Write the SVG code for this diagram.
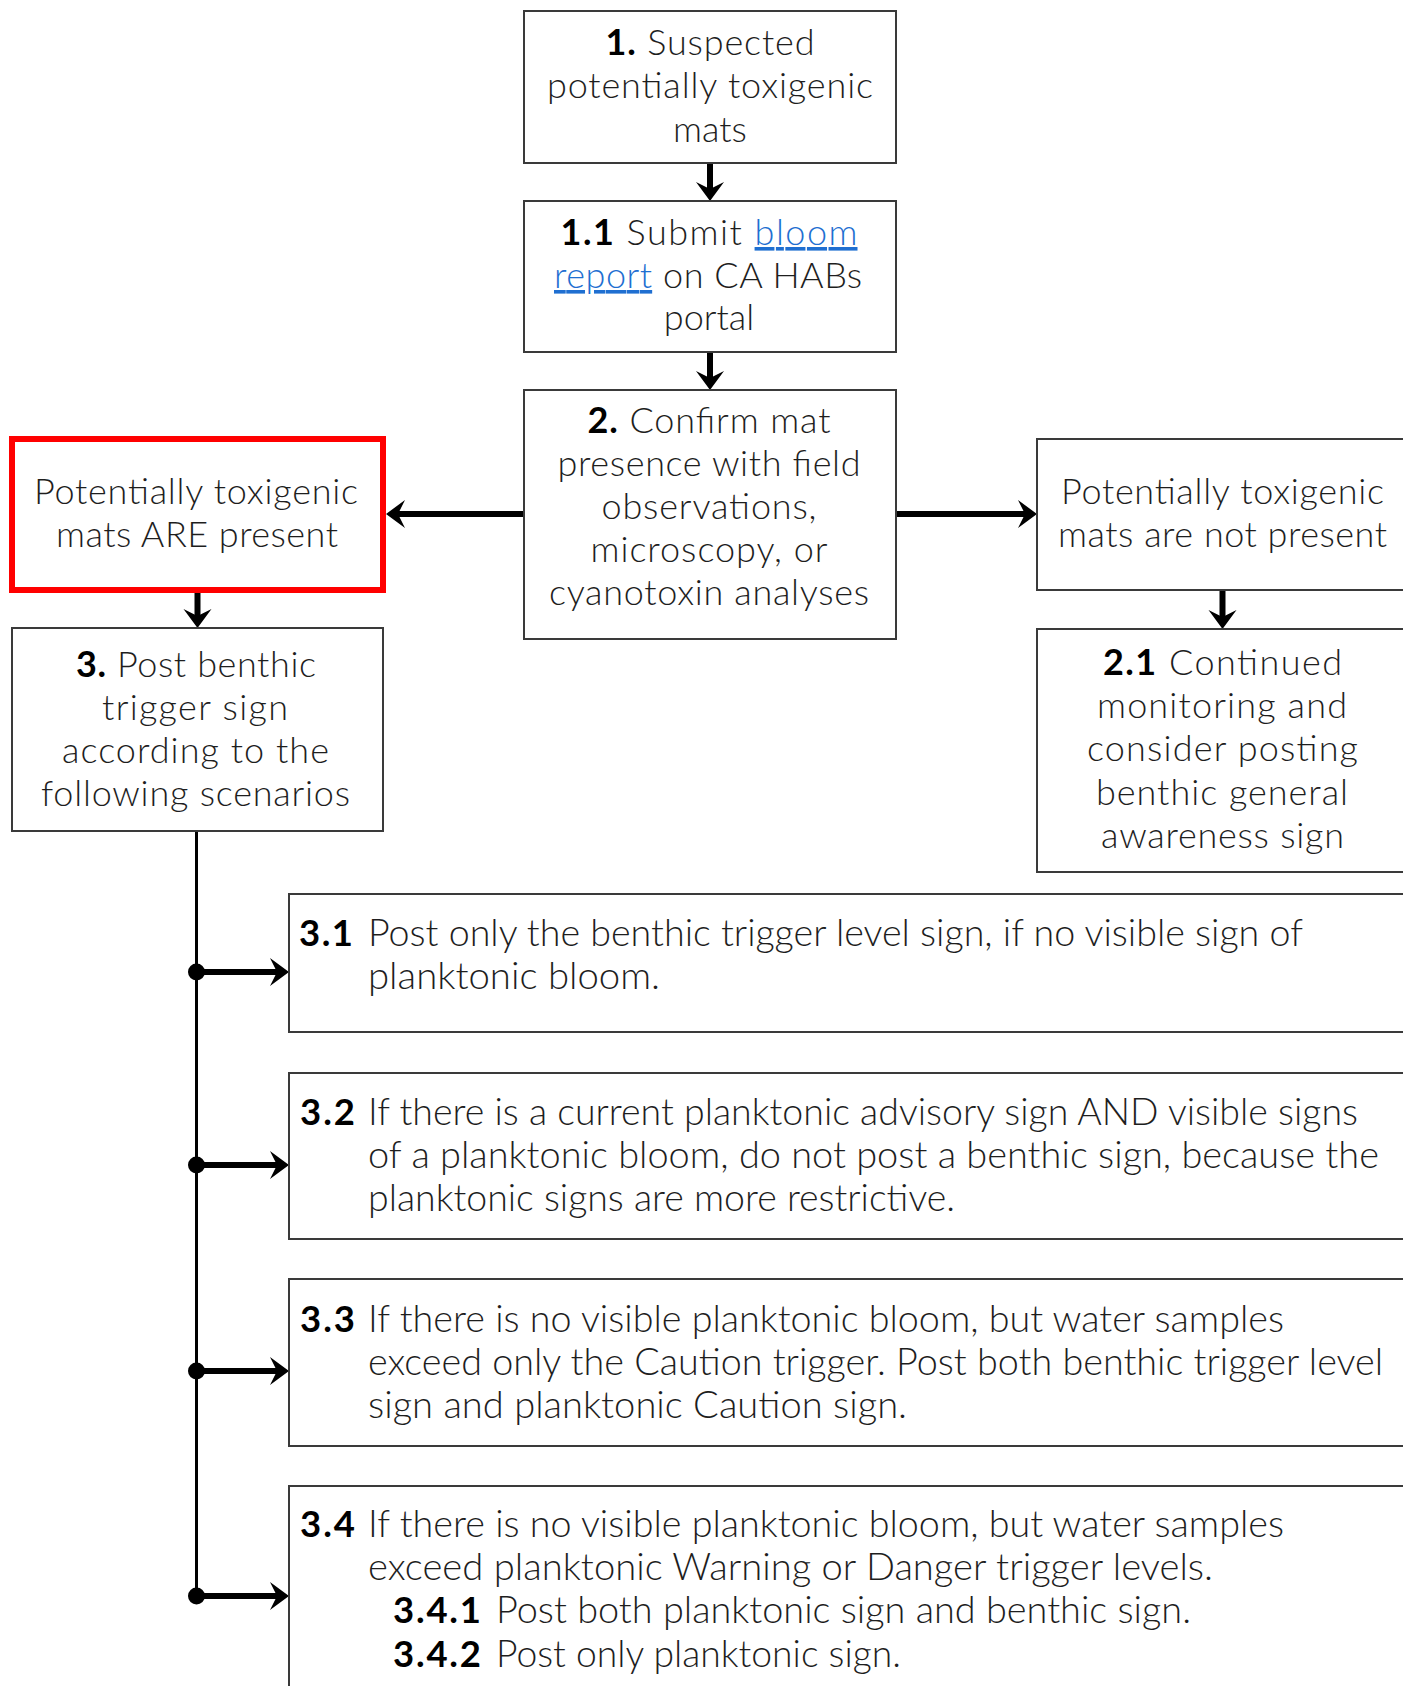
<svg xmlns="http://www.w3.org/2000/svg" width="1403" height="1686" viewBox="0 0 1403 1686">
<defs>
<marker id="ah" markerUnits="userSpaceOnUse" viewBox="-20 -15 21 30" refX="-10" refY="0" markerWidth="21" markerHeight="30" orient="auto">
<path d="M0,0 L-19,-14 L-12,0 L-19,14 Z" fill="#000"/>
</marker>
<style>
.box{fill:#fff;stroke:#3a3a3a;stroke-width:2}
.red{fill:#fff;stroke:#ff0000;stroke-width:6}
.t{font-family:Lato,"Liberation Sans",sans-serif;font-weight:300;font-size:36px;fill:#1e1e1e}
.c{text-anchor:middle}
.b{font-weight:700;fill:#000}
.lk{fill:#1f6fd1;text-decoration:underline}
.lo{font-size:36.5px}
.arr{stroke:#000;stroke-width:6;fill:none;marker-end:url(#ah)}
.trunk{stroke:#000;stroke-width:3;fill:none}
.dot{fill:#000}
</style>
</defs>
<rect width="1403" height="1686" fill="#fff"/>

<g id="connectors">
<line class="arr" x1="710" y1="163" x2="710" y2="191"/>
<line class="arr" x1="710" y1="352" x2="710" y2="380"/>
<line class="arr" x1="524" y1="514" x2="396" y2="514"/>
<line class="arr" x1="896" y1="514" x2="1027" y2="514"/>
<line class="arr" x1="197.5" y1="593" x2="197.5" y2="618"/>
<line class="arr" x1="1222.5" y1="590" x2="1222.5" y2="619"/>
<line class="trunk" x1="196.5" y1="831" x2="196.5" y2="1596"/>
<line class="arr" x1="196.5" y1="972" x2="279" y2="972"/>
<line class="arr" x1="196.5" y1="1165" x2="279" y2="1165"/>
<line class="arr" x1="196.5" y1="1371" x2="279" y2="1371"/>
<line class="arr" x1="196.5" y1="1596" x2="279" y2="1596"/>
<circle class="dot" cx="196.5" cy="972" r="8.5"/>
<circle class="dot" cx="196.5" cy="1165" r="8.5"/>
<circle class="dot" cx="196.5" cy="1371" r="8.5"/>
<circle class="dot" cx="196.5" cy="1596" r="8.5"/>
</g>

<g id="n1">
<rect class="box" x="524" y="11" width="372" height="152"/>
<text class="t c" x="710" y="55" textLength="209"><tspan class="b">1.</tspan> Suspected</text>
<text class="t c" x="710" y="98" textLength="326">potentially toxigenic</text>
<text class="t c" x="710" y="142">mats</text>
</g>

<g id="n1_1">
<rect class="box" x="524" y="201" width="372" height="151"/>
<text class="t c" x="709" y="245" textLength="297"><tspan class="b">1.1</tspan> Submit <tspan class="lk">bloom</tspan></text>
<text class="t c" x="708" y="288" textLength="308"><tspan class="lk">report</tspan> on CA HABs</text>
<text class="t c" x="709" y="330">portal</text>
</g>

<g id="n2">
<rect class="box" x="524" y="390" width="372" height="249"/>
<text class="t c" x="709" y="433" textLength="243"><tspan class="b">2.</tspan> Confirm mat</text>
<text class="t c" x="709" y="476" textLength="303">presence with field</text>
<text class="t c" x="709" y="519" textLength="215">observations,</text>
<text class="t c" x="709" y="562" textLength="237">microscopy, or</text>
<text class="t c" x="709" y="605" textLength="320">cyanotoxin analyses</text>
</g>

<g id="n_present">
<rect class="red" x="12" y="439" width="371" height="151"/>
<text class="t c" x="196" y="504" textLength="324">Potentially toxigenic</text>
<text class="t c" x="197" y="547" textLength="282">mats ARE present</text>
</g>

<g id="n_notpresent">
<rect class="box" x="1037" y="439" width="380" height="151"/>
<text class="t c" x="1222.5" y="504" textLength="323">Potentially toxigenic</text>
<text class="t c" x="1222.5" y="547" textLength="329">mats are not present</text>
</g>

<g id="n3">
<rect class="box" x="12" y="628" width="371" height="203"/>
<text class="t c" x="196" y="677" textLength="240"><tspan class="b">3.</tspan> Post benthic</text>
<text class="t c" x="195" y="720" textLength="186">trigger sign</text>
<text class="t c" x="195.5" y="763" textLength="267">according to the</text>
<text class="t c" x="195.5" y="806" textLength="309">following scenarios</text>
</g>

<g id="n2_1">
<rect class="box" x="1037" y="629" width="380" height="243"/>
<text class="t c" x="1222.5" y="675" textLength="239"><tspan class="b">2.1</tspan> Continued</text>
<text class="t c" x="1222" y="718" textLength="250">monitoring and</text>
<text class="t c" x="1222.5" y="761" textLength="271">consider posting</text>
<text class="t c" x="1222" y="805" textLength="252">benthic general</text>
<text class="t c" x="1222.5" y="848" textLength="243">awareness sign</text>
</g>

<g id="n3_1">
<rect class="box" x="289" y="894" width="1130" height="138"/>
<text class="t lo b" x="299" y="946" textLength="54">3.1</text>
<text class="t lo" x="368" y="946" textLength="935" lengthAdjust="spacingAndGlyphs">Post only the benthic trigger level sign, if no visible sign of</text>
<text class="t lo" x="368" y="989" textLength="292" lengthAdjust="spacingAndGlyphs">planktonic bloom.</text>
</g>

<g id="n3_2">
<rect class="box" x="289" y="1073" width="1130" height="166"/>
<text class="t lo b" x="300" y="1125" textLength="55">3.2</text>
<text class="t lo" x="368" y="1125" textLength="990" lengthAdjust="spacingAndGlyphs">If there is a current planktonic advisory sign AND visible signs</text>
<text class="t lo" x="368" y="1168" textLength="1011" lengthAdjust="spacingAndGlyphs">of a planktonic bloom, do not post a benthic sign, because the</text>
<text class="t lo" x="368" y="1211" textLength="587" lengthAdjust="spacingAndGlyphs">planktonic signs are more restrictive.</text>
</g>

<g id="n3_3">
<rect class="box" x="289" y="1279" width="1130" height="167"/>
<text class="t lo b" x="300" y="1332" textLength="55">3.3</text>
<text class="t lo" x="368" y="1332" textLength="916" lengthAdjust="spacingAndGlyphs">If there is no visible planktonic bloom, but water samples</text>
<text class="t lo" x="368" y="1375" textLength="1015" lengthAdjust="spacingAndGlyphs">exceed only the Caution trigger. Post both benthic trigger level</text>
<text class="t lo" x="368" y="1418" textLength="539" lengthAdjust="spacingAndGlyphs">sign and planktonic Caution sign.</text>
</g>

<g id="n3_4">
<rect class="box" x="289" y="1486" width="1130" height="220"/>
<text class="t lo b" x="300" y="1537" textLength="55">3.4</text>
<text class="t lo" x="368" y="1537" textLength="916" lengthAdjust="spacingAndGlyphs">If there is no visible planktonic bloom, but water samples</text>
<text class="t lo" x="368" y="1580" textLength="845" lengthAdjust="spacingAndGlyphs">exceed planktonic Warning or Danger trigger levels.</text>
<text class="t lo b" x="393" y="1623" textLength="88">3.4.1</text>
<text class="t lo" x="496" y="1623" textLength="695" lengthAdjust="spacingAndGlyphs">Post both planktonic sign and benthic sign.</text>
<text class="t lo b" x="393" y="1667" textLength="88">3.4.2</text>
<text class="t lo" x="496" y="1667" textLength="405" lengthAdjust="spacingAndGlyphs">Post only planktonic sign.</text>
</g>
</svg>
